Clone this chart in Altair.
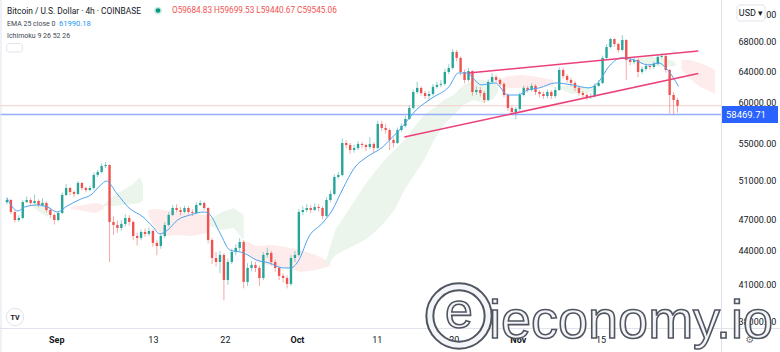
import altair as alt
import pandas as pd

# ---------------- data ----------------
first_open = 48700
closes = [48930, 47720, 46930, 47130, 48720, 48930, 48620, 48830, 48420, 48620,
          47920, 47430, 46930, 47620, 49440, 50170, 49750, 49550, 50690, 50170,
          49960, 50170, 51550, 51870, 52520, 52630, 46740, 46450, 46160, 46550,
          47130, 46740, 45390, 45210, 45780, 45590, 45870, 44740, 44460, 45390,
          46450, 47430, 48120, 47920, 47720, 48120, 47720, 47620, 48420, 48620,
          48120, 45020, 43360, 43000, 43640, 41420, 43000, 43910, 44280, 44830,
          41250, 42470, 42740, 42470, 41590, 43640, 43820, 43000, 42470, 41770,
          41590, 41080, 43360, 43640, 47720, 47920, 48120, 47920, 48220, 48120,
          47330, 48930, 49550, 51330, 51550, 55100, 54870, 54300, 54520, 54990,
          54870, 54640, 54990, 54520, 57330, 56850, 56610, 55440, 55100, 56610,
          57090, 57920, 59270, 61270, 61800, 61140, 60760, 61020, 61930, 62190,
          62320, 63880, 64420, 66600, 65780, 63880, 62830, 64010, 61270, 61530,
          61140, 60260, 62570, 63220, 62830, 62320, 60890, 59270, 58780, 59140,
          60890, 61800, 61530, 62060, 61270, 61020, 60760, 61270, 60760, 61530,
          64150, 63350, 62830, 62440, 61800, 61140, 60890, 60640, 60760, 62060,
          62440, 65780, 67290, 68430, 67720, 66880, 68280, 65500, 65230, 65500,
          63880, 64280, 64690, 64550, 64960, 65920, 66060, 64150, 60890, 60260,
          59545.06]
highs = [49200, 49050, 47850, 47400, 48900, 49300, 49150, 49500, 49000, 49100,
         48800, 48100, 47600, 47800, 49700, 50600, 50300, 49900, 50900, 50800,
         50300, 50400, 51800, 52100, 52800, 52950, 52700, 47300, 46900, 46900,
         47500, 47400, 46900, 45700, 46000, 46100, 46200, 46000, 45000, 45600,
         46700, 47700, 48400, 48500, 48200, 48350, 48300, 48000, 48700, 48900,
         48800, 48200, 45200, 43900, 44000, 43800, 43300, 44200, 44600, 45200,
         45000, 42900, 43100, 43000, 42700, 43900, 44300, 44000, 43200, 42600,
         42000, 41800, 43600, 44000, 48000, 48300, 48500, 48400, 48600, 48500,
         48300, 49200, 49900, 51600, 51900, 55600, 55400, 55100, 54900, 55300,
         55200, 55000, 55800, 55200, 57700, 57700, 57300, 56800, 55700, 56900,
         57400, 58300, 59600, 61600, 62600, 62000, 61400, 61400, 62300, 62600,
         62800, 64300, 64900, 67000, 66900, 66000, 64200, 64400, 64100, 62000,
         61900, 61400, 62900, 63700, 63500, 63100, 62500, 61100, 59500, 59400,
         61200, 62100, 62000, 62400, 62300, 61500, 61300, 61600, 61500, 61900,
         64500, 64400, 63600, 63100, 62700, 62000, 61400, 61100, 61100, 62400,
         62800, 66100, 67700, 68600, 68500, 67900, 69000, 68400, 65800, 65800,
         65700, 64600, 65000, 64900, 65300, 66200, 66400, 66200, 64300, 61300,
         60500]
lows = [48500, 47500, 46700, 46750, 47000, 48600, 48400, 48500, 48200, 48250,
        47700, 47100, 46500, 46800, 47500, 49300, 49400, 49200, 49400, 49900,
        49700, 49800, 50000, 51300, 51700, 52300, 43000, 45500, 45700, 45900,
        46300, 46400, 45000, 44500, 45000, 45300, 45400, 44400, 43600, 44200,
        45200, 46300, 47300, 47700, 47400, 47600, 47500, 47300, 47500, 48300,
        47900, 44700, 42800, 42600, 42000, 39700, 41000, 42800, 43600, 44000,
        40700, 40900, 42200, 42100, 40900, 41400, 43400, 42700, 42100, 41400,
        41200, 40700, 40900, 43000, 43500, 47400, 47700, 47600, 47800, 47800,
        47000, 47200, 48700, 49400, 51100, 51400, 54500, 53900, 54000, 54300,
        54500, 54200, 54400, 54000, 54400, 56500, 56200, 54300, 54600, 55000,
        56400, 56900, 57800, 59100, 61000, 60800, 60400, 60300, 60800, 61700,
        61900, 62100, 63600, 64200, 65300, 63400, 62400, 62600, 60800, 60900,
        60700, 59900, 60100, 62300, 62500, 62000, 60600, 58900, 58400, 57900,
        58900, 60700, 61200, 61300, 60900, 60600, 60400, 60500, 60400, 60500,
        61400, 63000, 62500, 62000, 61400, 60800, 60500, 60300, 60400, 60600,
        61900, 62300, 65600, 67100, 67300, 66500, 66700, 62800, 64800, 64900,
        63200, 63600, 64000, 64200, 64300, 64800, 65700, 63800, 58600, 58500,
        58700]

ema_bar = [0, 2.75, 4.5, 7.75, 10.25, 12.75, 15.25, 18.75, 21.25, 23.75, 25.25,
           27.75, 31.25, 34.5, 37, 38.75, 40.75, 43.25, 46.5, 50, 51.5, 54, 56.5,
           60, 63.25, 66.5, 70, 72, 74, 76.5, 80, 82.5, 85, 88.25, 91.25, 95.25,
           97.75, 99.5, 103.75, 107.75, 112, 114.5, 116.5, 120.25, 123.75, 127,
           129.5, 132, 135, 139, 143.25, 147.5, 150, 152.5, 155.75, 159, 162.5,
           165.25, 167.5, 170.25]
ema_val = [49130, 47820, 48220, 48420, 48220, 47720, 48320, 49030, 49440, 50480, 50900,
           49650, 48020, 47230, 46260, 45590, 45970, 46930, 47430, 47720, 47430, 45680, 44090,
           43820, 43180, 42910, 42470, 42470, 43180, 45300, 46640, 47920, 49960, 52410, 53520, 54640,
           55790, 56610, 59020, 60510, 61930, 63750, 63750, 62190, 62440, 60890,
           60890, 61530, 61800, 62440, 62190, 61800, 62570, 64550, 65780, 65500, 64820,
           65090, 64150, 61990.18]

cloud_seg = (["a"] * 4 + ["b"] * 4 + ["c"] * 6 + ["d"] * 7 + ["e"] * 4 + ["f"] * 7 +
             ["g"] * 19 + ["h"] * 5 + ["i"] * 4 + ["j"] * 4 + ["k"] * 5)
cloud_kind = (["cloud_up"] * 4 + ["cloud_dn"] * 4 + ["cloud_up"] * 6 + ["cloud_dn"] * 7 +
              ["cloud_up"] * 4 + ["cloud_dn"] * 7 + ["cloud_up"] * 19 + ["cloud_dn"] * 5 +
              ["cloud_up"] * 4 + ["cloud_up"] * 4 + ["cloud_dn"] * 5)
cloud_bar = [6.5, 8.25, 10.25, 11,
             16.25, 19.5, 22.5, 24.5,
             24.5, 27, 29.5, 32, 33.75, 34.5,
             35.75, 37.5, 40, 43.25, 47, 50.75, 51.5,
             51.5, 54.5, 57.5, 60,
             60, 63.25, 67, 70.75, 74.5, 78.25, 82,
             80.75, 83.25, 85.75, 88.25, 90.75, 93.25, 95.75, 98.25, 100.75, 103.25,
             105.75, 108.25, 110.75, 113.25, 115.75, 118.25, 120.75, 123.25, 124.5,
             124.5, 127, 130.75, 134.5, 138.5,
             139.5, 143.25, 147, 149.5,
             159.5, 163.25, 167, 169.5,
             171, 173.25, 175.75, 177.5, 179.5]
cloud_top = [48420, 48930, 48620, 48220,
             48220, 48420, 48620, 48420,
             48420, 49340, 49960, 50580, 51330, 50480,
             47920, 48020, 47920, 47720, 47520, 47420, 47030,
             47030, 47720, 48120, 47420,
             45020, 44460, 44550, 44370, 44090, 43630, 43000,
             43000, 45970, 47420, 48930, 50480, 51870, 53180, 54300, 55440, 56940,
             58410, 59270, 60260, 60890, 62170, 62830, 62830, 62570, 62020,
             62830, 63350, 63480, 63220, 62830,
             62060, 62060, 61930, 62060,
             65700, 65980, 65700, 65230,
             65500, 65500, 65090, 64690, 64150]
cloud_bot = [48220, 47720, 47230, 47620,
             48020, 47820, 47620, 48020,
             48320, 48320, 48420, 48520, 48620, 48930,
             47520, 46070, 45400, 45490, 45400, 45680, 46350,
             46350, 45970, 46160, 45020,
             44090, 43000, 42650, 42470, 42120, 42290, 42650,
             42470, 43630, 44090, 44550, 45020, 45780, 46740, 47920, 49960, 51540,
             53180, 55440, 57200, 58410, 59640, 60260, 59890, 60390, 61270,
             62300, 61800, 61800, 61800, 62060,
             61800, 61020, 61150, 61530,
             65230, 64690, 64550, 64690,
             64150, 62960, 61930, 61530, 61020]

trend_id = ["upper", "upper", "lower", "lower"]
trend_bar = [117, 175.25, 100.75, 175.25]
trend_val = [63750, 66740, 55790, 63680]

level_price = 58469.71
last_close = 59545.06

y_ticks = [38000, 41000, 44000, 47000, 51000, 55000, 60000, 64000, 68000, 72000]
time_labels = ["Sep", "13", "22", "Oct", "11", "20", "Nov", "15"]
time_pos = [12.5, 37, 55.25, 73.5, 93.75, 113.25, 129.5, 150.5]
month_labels = ["Sep", "Oct", "Nov"]

# ---------------- tables ----------------
n = len(closes)
opens = [first_open] + closes[:-1]
candles = pd.DataFrame({
    "bar": list(range(n)), "open": opens, "close": closes, "high": highs, "low": lows,
})
candles["dir"] = ["up" if c >= o else "down" for o, c in zip(opens, closes)]
ema = pd.DataFrame({"bar": ema_bar, "v": ema_val})
cloud = pd.DataFrame({"seg": cloud_seg, "dir": cloud_kind, "bar": cloud_bar,
                      "top": cloud_top, "bot": cloud_bot})
trend = pd.DataFrame({"id": trend_id, "bar": trend_bar, "v": trend_val})
levels = pd.DataFrame({"v": [level_price]})
lastp = pd.DataFrame({"v": [last_close]})
one = pd.DataFrame({"a": [0]})

# ---------------- scales / axes ----------------
W, H = 721, 328
FONT = "Roboto"
xscale = alt.Scale(domain=[-0.5, 179.75], nice=False, zero=False)
yscale = alt.Scale(type="log", domain=[37475, 74218], nice=False, zero=False)

label_expr = "".join(f"datum.value == {p} ? '{l}' : " for p, l in zip(time_pos, time_labels)) + "''"
bold_test = " || ".join(f"datum.value == {p}" for p, l in zip(time_pos, time_labels) if l in month_labels)
xaxis = alt.Axis(values=time_pos, labelExpr=label_expr, title=None, grid=False, ticks=False,
                 domain=False, labelPadding=7, labelFontSize=9, labelFont=FONT,
                 labelColor="#131722", labelFlush=False,
                 labelFontWeight={"condition": {"test": bold_test, "value": "bold"}, "value": "normal"})
yaxis = alt.Axis(orient="right", values=y_ticks, format=".2f", title=None, grid=False,
                 ticks=False, domain=False, labelPadding=17, labelFontSize=9, labelFont=FONT,
                 labelColor="#131722", labelAlign="left")


def X(f):
    return alt.X(f, type="quantitative", scale=xscale, axis=xaxis)


def Y(f):
    return alt.Y(f, type="quantitative", scale=yscale, axis=yaxis, stack=None)


color = alt.Color("dir:N", legend=None, scale=alt.Scale(
    domain=["up", "down", "cloud_up", "cloud_dn"],
    range=["#26a69a", "#ef5350", "#ebf5ec", "#fdeceb"]))

cloud_layer = alt.Chart(cloud).mark_area(clip=True, opacity=1, interpolate="linear").encode(
    x=X("bar"), y=Y("top"), y2="bot", detail="seg:N", color=color)

level_layer = alt.Chart(levels).mark_rule(color="#94adff", strokeWidth=1.6).encode(y=Y("v"))
last_layer = alt.Chart(lastp).mark_rule(color="#f6cfce", strokeWidth=1).encode(y=Y("v"))

wick_layer = alt.Chart(candles).mark_rule(clip=True, strokeWidth=1, opacity=0.5).encode(
    x=X("bar"), y=Y("low"), y2="high", color=color)
body_layer = alt.Chart(candles).mark_bar(clip=True, size=2.4).encode(
    x=X("bar"), y=Y("open"), y2="close", color=color)

ema_layer = alt.Chart(ema).mark_line(clip=True, color="#4fa3f0", strokeWidth=1,
                                     interpolate="monotone").encode(x=X("bar"), y=Y("v"))
trend_layer = alt.Chart(trend).mark_line(clip=True, color="#ec407a", strokeWidth=1.5).encode(
    x=X("bar"), y=Y("v"), detail="id:N")


def txt(s, x, y, size=9, color="#131722", weight="normal", align="left", font=FONT, **kw):
    return alt.Chart(one).mark_text(text=s, align=align, baseline="middle", fontSize=size,
                                    color=color, fontWeight=weight, font=font, **kw).encode(
        x=alt.value(x), y=alt.value(y))


def rect(x, x2, y, y2, fill, stroke=None, radius=0):
    kw = dict(fill=fill, cornerRadius=radius)
    if stroke:
        kw["stroke"] = stroke
        kw["strokeWidth"] = 1
    return alt.Chart(one).mark_rect(**kw).encode(
        x=alt.value(x), x2=alt.value(x2), y=alt.value(y), y2=alt.value(y2))


def vrule(x, y, y2, color="#e0e3eb", w=1):
    return alt.Chart(one).mark_rule(color=color, strokeWidth=w).encode(
        x=alt.value(x), y=alt.value(y), y2=alt.value(y2))


def hrule(y, x, x2, color="#e0e3eb", w=1):
    return alt.Chart(one).mark_rule(color=color, strokeWidth=w).encode(
        y=alt.value(y), x=alt.value(x), x2=alt.value(x2))


frame = [
    vrule(721.5, 0, 352),
    hrule(328.5, 0, 780),
    vrule(1, 0, 352),
]

header = [
    txt("Bitcoin / U.S. Dollar · 4h · COINBASE", 7, 11, size=8.4),
    alt.Chart(one).mark_point(shape="circle", filled=True, size=60, color="#c8ebe6", opacity=1).encode(
        x=alt.value(158), y=alt.value(10.5)),
    alt.Chart(one).mark_point(shape="circle", filled=True, size=22, color="#089981", opacity=1).encode(
        x=alt.value(158), y=alt.value(10.5)),
    txt("O59684.83 H59699.53 L59440.67 C59545.06", 172, 11, size=8.2, color="#ef5350"),
    txt("EMA 25 close 0", 7, 24, size=7.0, color="#434651"),
    txt("61990.18", 59, 24, size=7.6, color="#2196f3"),
    txt("Ichimoku 9 26 52 26", 7, 35.5, size=7.0, color="#434651"),
    rect(6.5, 22.5, 43.5, 52, "#ffffff", stroke="#e0e3eb", radius=3),
]

price_box = [
    rect(722, 778, 106, 123, "#2962ff"),
    txt("58469.71", 726, 114.5, size=9.5, color="#ffffff"),
    rect(737, 765, 5, 21, "#ffffff", stroke="#e0e3eb", radius=3),
    txt("USD ▾", 751, 13, size=9, align="center"),
]

logo = [
    alt.Chart(one).mark_point(shape="circle", filled=True, size=300, color="#ffffff", opacity=1,
                              stroke="#e0e3eb", strokeWidth=1).encode(x=alt.value(15), y=alt.value(317)),
    txt("TV", 15, 317.5, size=7, weight="bold", align="center"),
    txt("⚙", 750, 340, size=10, color="#787b86", align="center", font="DejaVu Sans"),
]

watermark = [
    alt.Chart(one).mark_point(shape="circle", filled=False, size=3400, color="#50555f",
                              strokeWidth=9, opacity=1).encode(x=alt.value(459), y=alt.value(316)),
    alt.Chart(one).mark_point(shape="circle", filled=False, size=3400, color="#f3f5f9",
                              strokeWidth=5, opacity=1).encode(x=alt.value(459), y=alt.value(316)),
    txt("e", 459, 313, size=50, color="#f3f5f9", align="center", font="Liberation Sans",
        stroke="#50555f", strokeWidth=1.6),
    txt("ieconomy.io", 489, 322, size=54, color="#f3f5f9", font="Liberation Sans",
        stroke="#50555f", strokeWidth=1.6),
]

chart = alt.layer(
    cloud_layer, level_layer, last_layer, wick_layer, body_layer, ema_layer, trend_layer,
    *frame, *header, *price_box, *logo, *watermark,
).properties(
    width=W, height=H,
    autosize=alt.AutoSizeParams(type="none"),
    padding={"left": 0, "top": 0, "right": 59, "bottom": 24},
    background="#ffffff",
).configure_view(stroke=None)

chart.save("out.html", embed_options={"renderer": "svg", "actions": False})
